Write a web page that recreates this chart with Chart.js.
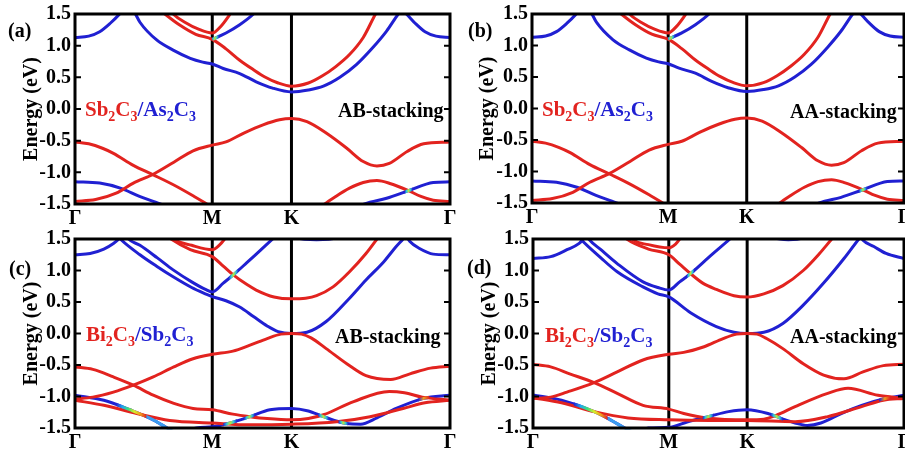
<!DOCTYPE html>
<html>
<head>
<meta charset="utf-8">
<script src="https://cdn.jsdelivr.net/npm/chart.js@4.4.1/dist/chart.umd.min.js"></script>
<style>
  body { margin: 0; background: #fff; }
  #fig { position: relative; width: 905px; height: 453px; overflow: hidden;
         font-family: "Liberation Serif", "Times New Roman", serif; font-weight: bold; }
  .panel { position: absolute; }
  .lbl { position: absolute; white-space: nowrap; line-height: 1; color: #000; font-size: 20px; }
  .cmp { font-size: 21px; }
  .cmp sub { font-size: 14px; vertical-align: -5px; line-height: 0; }
  .r { color: #e2231f; }
  .b { color: #2020d2; }
</style>
</head>
<body>
<div id="fig">
  <canvas class="panel" id="ca" width="465" height="228" style="left:0;top:0"></canvas>
  <canvas class="panel" id="cb" width="453" height="228" style="left:452px;top:0"></canvas>
  <canvas class="panel" id="cc" width="465" height="227" style="left:0;top:226px"></canvas>
  <canvas class="panel" id="cd" width="453" height="227" style="left:452px;top:226px"></canvas>

  <div class="lbl" style="left:8px;top:20px">(a)</div>
  <div class="lbl" style="left:468px;top:20px">(b)</div>
  <div class="lbl" style="left:9px;top:258px">(c)</div>
  <div class="lbl" style="left:467px;top:257px">(d)</div>

  <div class="lbl cmp" style="left:85px;top:99px"><span class="r">Sb<sub>2</sub>C<sub>3</sub></span><span class="b">/As<sub>2</sub>C<sub>3</sub></span></div>
  <div class="lbl cmp" style="left:542px;top:99px"><span class="r">Sb<sub>2</sub>C<sub>3</sub></span><span class="b">/As<sub>2</sub>C<sub>3</sub></span></div>
  <div class="lbl cmp" style="left:86px;top:324px"><span class="r">Bi<sub>2</sub>C<sub>3</sub></span><span class="b">/Sb<sub>2</sub>C<sub>3</sub></span></div>
  <div class="lbl cmp" style="left:545px;top:325px"><span class="r">Bi<sub>2</sub>C<sub>3</sub></span><span class="b">/Sb<sub>2</sub>C<sub>3</sub></span></div>

  <div class="lbl" style="left:338px;top:100px">AB-stacking</div>
  <div class="lbl" style="left:790px;top:101px">AA-stacking</div>
  <div class="lbl" style="left:335px;top:326px">AB-stacking</div>
  <div class="lbl" style="left:790px;top:326px">AA-stacking</div>
</div>
<script>
// k path: Γ (0) - M (1) - K (1.577) - Γ (2.732), energies in eV
const kTicks = [0, 1, 1.577, 2.732];
const kLabels = ['Γ', 'M', 'K', 'Γ'];
const eTicks = [-1.5, -1.0, -0.5, 0.0, 0.5, 1.0, 1.5];

// panel (a)/(b): Sb2C3/As2C3 (b reads the same as a)
const aRed1 = [[0.68,1.6],[0.715,1.5],[0.8,1.37],[0.9,1.26],[1.0,1.2],[1.06,1.3],[1.13,1.5],[1.16,1.6]];
const aRed2 = [[0.6,1.6],[0.655,1.5],[0.76,1.33],[0.88,1.18],[1.0,1.1],[1.1,0.95],[1.2,0.77],[1.3,0.62],[1.38,0.51],[1.48,0.41],[1.577,0.36],[1.7,0.41],[1.8,0.52],[1.9,0.67],[2.0,0.86],[2.1,1.13],[2.19,1.5],[2.22,1.6]];
const aRedV1 = [[0,-0.52],[0.1,-0.55],[0.2,-0.62],[0.28,-0.7],[0.425,-0.89],[0.57,-1.04],[0.72,-1.2],[0.86,-1.37],[0.96,-1.5],[1.0,-1.56]];
const aRedV2 = [[0,-1.46],[0.15,-1.43],[0.3,-1.33],[0.425,-1.17],[0.57,-1.03],[0.72,-0.84],[0.86,-0.66],[1.0,-0.57],[1.1,-0.52],[1.23,-0.38],[1.37,-0.25],[1.49,-0.17],[1.577,-0.15],[1.69,-0.2],[1.83,-0.38],[1.98,-0.62],[2.1,-0.83],[2.2,-0.9],[2.29,-0.86],[2.42,-0.67],[2.54,-0.55],[2.732,-0.52]];
const aRedV3 = [[1.78,-1.58],[1.82,-1.5],[1.9,-1.38],[2.0,-1.25],[2.1,-1.16],[2.2,-1.13],[2.3,-1.18],[2.43,-1.29],[2.52,-1.38],[2.61,-1.44],[2.732,-1.46]];
const aBlue1 = [[0,1.13],[0.1,1.15],[0.18,1.22],[0.255,1.35],[0.32,1.49],[0.37,1.62]];
const aBlue2 = [[0.4,1.62],[0.44,1.5],[0.473,1.37],[0.595,1.09],[0.715,0.93],[0.84,0.8],[0.93,0.74],[1.0,0.71],[1.08,0.64],[1.2,0.56],[1.32,0.43],[1.44,0.33],[1.577,0.27],[1.7,0.3],[1.81,0.36],[1.93,0.5],[2.05,0.7],[2.17,0.97],[2.27,1.23],[2.355,1.5],[2.4,1.62]];
const aBlue3 = [[2.36,1.62],[2.42,1.49],[2.48,1.35],[2.55,1.22],[2.63,1.15],[2.732,1.13]];
const aBlue4 = [[1.0,1.1],[1.1,1.2],[1.2,1.33],[1.3,1.5],[1.34,1.6]];
const aBlueV1 = [[0,-1.15],[0.18,-1.17],[0.33,-1.25],[0.47,-1.38],[0.62,-1.5],[0.68,-1.56]];
const aBlueV2 = [[2.05,-1.57],[2.11,-1.5],[2.27,-1.41],[2.43,-1.29],[2.61,-1.16],[2.732,-1.15]];

// panel (c): Bi2C3/Sb2C3 AB
const cRedUp = [[0.68,1.6],[0.72,1.5],[0.85,1.4],[1.0,1.33],[1.05,1.4],[1.09,1.5],[1.12,1.6]];
const cRedMid = [[0.64,1.6],[0.7,1.5],[0.84,1.33],[1.0,1.22],[1.08,1.07],[1.153,0.93],[1.25,0.78],[1.32,0.69],[1.45,0.58],[1.577,0.55],[1.68,0.56],[1.76,0.6],[1.88,0.74],[2.0,0.98],[2.12,1.27],[2.2,1.5],[2.24,1.62]];
const cRedV1 = [[0,-1.04],[0.13,-1.01],[0.28,-0.93],[0.425,-0.82],[0.57,-0.69],[0.72,-0.53],[0.86,-0.4],[1.0,-0.33],[1.15,-0.28],[1.275,-0.185],[1.4,-0.08],[1.5,-0.01],[1.577,0.0],[1.65,-0.01],[1.72,-0.07],[1.83,-0.24],[1.98,-0.48],[2.12,-0.67],[2.3,-0.73],[2.44,-0.64],[2.59,-0.55],[2.732,-0.52]];
const cRedV2 = [[0,-0.53],[0.13,-0.57],[0.28,-0.69],[0.425,-0.82],[0.57,-0.98],[0.72,-1.11],[0.86,-1.19],[1.0,-1.21],[1.15,-1.28],[1.275,-1.32],[1.4,-1.35],[1.577,-1.37],[1.7,-1.35],[1.81,-1.29],[2.03,-1.08],[2.29,-0.92],[2.4,-0.94],[2.53,-1.01],[2.732,-1.06]];
const cRedV4 = [[0,-1.06],[0.21,-1.14],[0.45,-1.27],[0.69,-1.38],[1.0,-1.42],[1.27,-1.45],[1.577,-1.44],[1.906,-1.4],[2.15,-1.32],[2.39,-1.19],[2.55,-1.1],[2.732,-1.06]];
const cBlue1 = [[0,1.25],[0.11,1.27],[0.21,1.34],[0.28,1.43],[0.32,1.5],[0.36,1.6]];
const cBlueLo = [[0.29,1.6],[0.33,1.5],[0.473,1.25],[0.6,1.06],[0.715,0.9],[0.85,0.73],[0.95,0.63],[1.0,0.585],[1.1,0.52],[1.2,0.42],[1.3,0.27],[1.4,0.12],[1.48,0.03],[1.577,0.0],[1.69,0.02],[1.83,0.19],[2.0,0.56],[2.12,0.85],[2.25,1.14],[2.34,1.38],[2.39,1.5],[2.42,1.58]];
const cBlueUp = [[0.36,1.6],[0.39,1.5],[0.473,1.4],[0.6,1.2],[0.715,1.01],[0.85,0.82],[0.95,0.7],[1.0,0.66],[1.08,0.8],[1.153,0.93],[1.25,1.12],[1.35,1.32],[1.44,1.5],[1.48,1.58]];
const cBlue3 = [[2.41,1.56],[2.44,1.46],[2.51,1.35],[2.61,1.26],[2.732,1.25]];
const cBlueTop = [[1.52,1.75],[1.61,1.52],[1.76,1.49],[1.91,1.52],[2.0,1.75]];
const cBlueV1 = [[0,-0.98],[0.21,-1.06],[0.4,-1.21],[0.57,-1.37],[0.67,-1.5],[0.75,-1.6]];
const cBlueV2 = [[0.8,-1.56],[0.886,-1.5],[1.0,-1.48],[1.13,-1.42],[1.275,-1.32],[1.42,-1.21],[1.577,-1.19],[1.7,-1.23],[1.81,-1.32],[1.98,-1.43],[2.08,-1.44],[2.2,-1.34],[2.34,-1.19],[2.54,-1.03],[2.732,-0.98]];

// panel (d): Bi2C3/Sb2C3 AA
const dRedUp = [[0.7,1.6],[0.73,1.5],[0.85,1.41],[1.0,1.36],[1.05,1.42],[1.08,1.5],[1.11,1.6]];
const dRedMid = [[0.64,1.6],[0.69,1.5],[0.85,1.34],[1.0,1.25],[1.08,1.1],[1.16,0.95],[1.25,0.8],[1.35,0.7],[1.48,0.6],[1.577,0.58],[1.7,0.63],[1.84,0.76],[1.99,1.0],[2.11,1.27],[2.2,1.5],[2.24,1.6]];
const dRedV1 = [[0,-1.03],[0.13,-1.01],[0.25,-0.93],[0.45,-0.78],[0.62,-0.61],[0.81,-0.42],[1.0,-0.33],[1.11,-0.3],[1.26,-0.21],[1.4,-0.08],[1.5,-0.01],[1.577,0.0],[1.65,-0.01],[1.72,-0.08],[1.84,-0.24],[1.99,-0.48],[2.14,-0.66],[2.29,-0.72],[2.43,-0.61],[2.58,-0.51],[2.732,-0.49]];
const dRedV2 = [[0,-0.49],[0.13,-0.53],[0.27,-0.64],[0.45,-0.78],[0.62,-0.95],[0.81,-1.14],[1.0,-1.2],[1.11,-1.27],[1.28,-1.34],[1.577,-1.37],[1.7,-1.36],[1.79,-1.3],[1.93,-1.16],[2.17,-0.95],[2.32,-0.87],[2.54,-0.98],[2.732,-1.03]];
const dRedV4 = [[0,-1.02],[0.21,-1.1],[0.45,-1.24],[0.7,-1.34],[1.0,-1.37],[1.3,-1.38],[1.577,-1.38],[1.93,-1.4],[2.17,-1.32],[2.42,-1.16],[2.58,-1.06],[2.732,-1.03]];
const dBlue1 = [[0,1.19],[0.13,1.22],[0.25,1.33],[0.34,1.43],[0.37,1.5],[0.4,1.6]];
const dBlueLo = [[0.31,1.6],[0.35,1.5],[0.5,1.2],[0.62,0.98],[0.81,0.74],[0.92,0.63],[1.0,0.58],[1.16,0.33],[1.35,0.11],[1.48,0.02],[1.577,0.0],[1.7,0.02],[1.84,0.16],[1.99,0.45],[2.14,0.8],[2.29,1.19],[2.4,1.5],[2.44,1.6]];
const dBlueUp = [[0.38,1.6],[0.41,1.5],[0.5,1.33],[0.62,1.11],[0.81,0.82],[0.92,0.73],[1.0,0.69],[1.08,0.82],[1.16,0.95],[1.3,1.22],[1.45,1.5],[1.5,1.6]];
const dBlue3 = [[2.4,1.58],[2.43,1.48],[2.51,1.38],[2.6,1.27],[2.732,1.19]];
const dBlueTop = [[1.7,1.75],[1.78,1.52],[1.88,1.49],[1.99,1.52],[2.06,1.75]];
const dBlueV1 = [[0,-0.975],[0.21,-1.06],[0.45,-1.24],[0.57,-1.37],[0.675,-1.5],[0.75,-1.58]];
const dBlueV2 = [[0.78,-1.56],[0.85,-1.5],[1.0,-1.49],[1.14,-1.4],[1.29,-1.32],[1.44,-1.24],[1.577,-1.21],[1.73,-1.27],[1.83,-1.35],[1.93,-1.42],[2.02,-1.46],[2.12,-1.42],[2.27,-1.27],[2.42,-1.14],[2.58,-1.04],[2.732,-0.98]];

const RED = '#e2231f';
const BLUE = '#2020d2';
const FONT = '"Liberation Serif", "Times New Roman", serif';

// colour mixing where bands hybridise: [band, from k, to k, colours]
const RAIN = [BLUE, '#1ea8f0', '#3ee07a', '#d8ee2a', '#f0a01e', RED];
const SPOT = [BLUE, '#30c8d8', '#b8e838', '#30c8d8', BLUE];
const LIGHT = ['#3a9cf0', '#3a9cf0'];
const ORANGE = [BLUE, '#f0a01e', RED];
const abMix = [[aBlue4, 0.99, 1.05, SPOT], [aBlueV2, 2.4, 2.46, SPOT]];
const cMix = [[cBlueV1, 0.3, 0.52, RAIN], [cBlueV1, 0.52, 0.8, LIGHT], [cBlueV2, 1.08, 1.18, SPOT],
              [cBlueV2, 1.23, 1.31, SPOT], [cBlueV2, 1.77, 1.85, SPOT], [cBlueV2, 1.92, 1.99, SPOT],
              [cBlueV2, 2.5, 2.58, ORANGE], [cBlueUp, 1.12, 1.19, SPOT]];
const dMix = [[dBlueV1, 0.3, 0.55, RAIN], [dBlueV1, 0.55, 0.8, LIGHT], [dBlueV2, 1.25, 1.33, SPOT],
              [dBlueV2, 1.75, 1.84, SPOT], [dBlueV2, 2.55, 2.63, ORANGE], [dBlueUp, 1.13, 1.19, SPOT]];

// M/K lines under the bands
const linesPlugin = {
    id: 'kLines',
    beforeDatasetsDraw(chart) {
        const { ctx, chartArea: a, scales: { x } } = chart;
        ctx.save();
        ctx.strokeStyle = '#000';
        ctx.lineWidth = 3;
        [kTicks[1], kTicks[2]].forEach(k => {
            const px = x.getPixelForValue(k);
            ctx.beginPath();
            ctx.moveTo(px, a.top);
            ctx.lineTo(px, a.bottom);
            ctx.stroke();
        });
        ctx.restore();
    }
};

// recolour short stretches of a band with a gradient
const mixPlugin = {
    id: 'mix',
    afterDatasetsDraw(chart) {
        const { ctx, chartArea: a, scales: { x } } = chart;
        const bands = chart.$bands;
        (chart.$mix || []).forEach(([band, k0, k1, colors]) => {
            const meta = chart.getDatasetMeta(bands.indexOf(band));
            const x0 = x.getPixelForValue(k0);
            const x1 = x.getPixelForValue(k1);
            const g = ctx.createLinearGradient(x0, 0, x1, 0);
            colors.forEach((c, i) => g.addColorStop(i / (colors.length - 1), c));
            ctx.save();
            ctx.beginPath();
            ctx.rect(x0, a.top - 1.5, x1 - x0, a.bottom - a.top + 3);
            ctx.clip();
            ctx.beginPath();
            meta.dataset.path(ctx);
            ctx.strokeStyle = g;
            ctx.lineWidth = 3;
            ctx.stroke();
            ctx.restore();
        });
    }
};

// frame and inward ticks on top
const framePlugin = {
    id: 'frame',
    afterDatasetsDraw(chart) {
        const { ctx, chartArea: a, scales: { y } } = chart;
        ctx.save();
        ctx.strokeStyle = '#000';
        ctx.lineWidth = 2;
        eTicks.forEach(v => {
            const py = y.getPixelForValue(v);
            ctx.beginPath();
            ctx.moveTo(a.left, py); ctx.lineTo(a.left + 6, py);
            ctx.moveTo(a.right, py); ctx.lineTo(a.right - 6, py);
            ctx.stroke();
        });
        ctx.lineWidth = 3;
        ctx.strokeRect(a.left, a.top, a.right - a.left, a.bottom - a.top);
        ctx.restore();
    }
};

function makePanel(id, reds, blues, mix, box) {
    const bands = reds.concat(blues);
    const datasets = bands.map((b, i) => ({
        data: b.map(p => ({ x: p[0], y: p[1] })),
        borderColor: i < reds.length ? RED : BLUE
    }));
    const tickFont = { family: FONT, size: 20, weight: 'bold' };
    const chart = new Chart(document.getElementById(id), {
        type: 'line',
        data: { datasets },
        options: {
            responsive: false,
            animation: false,
            devicePixelRatio: 1,
            layout: { padding: { top: box.top, right: box.right, left: 0, bottom: 0 } },
            elements: {
                line: { borderWidth: 3, cubicInterpolationMode: 'monotone', fill: false },
                point: { radius: 0 }
            },
            plugins: { legend: { display: false }, tooltip: { enabled: false } },
            scales: {
                x: {
                    type: 'linear', min: 0, max: kTicks[3],
                    afterBuildTicks: s => { s.ticks = kTicks.map(v => ({ value: v })); },
                    afterFit: s => { s.height = box.xh; s.paddingLeft = 0; s.paddingRight = 0; },
                    ticks: { callback: (v, i) => kLabels[i], font: tickFont, color: '#000', padding: 3, maxRotation: 0, autoSkip: false },
                    grid: { display: false, drawTicks: false },
                    border: { display: false }
                },
                y: {
                    min: -1.5, max: 1.5,
                    afterBuildTicks: s => { s.ticks = eTicks.map(v => ({ value: v })); },
                    afterFit: s => { s.width = box.yw; s.paddingTop = 0; s.paddingBottom = 0; },
                    ticks: { callback: v => v.toFixed(1), font: tickFont, color: '#000', padding: 4 },
                    grid: { display: false, drawTicks: false },
                    border: { display: false },
                    title: { display: true, text: 'Energy (eV)', font: tickFont, color: '#000', padding: { top: box.tp, bottom: 0 } }
                }
            }
        },
        plugins: [linesPlugin, {
            id: 'setup',
            beforeDraw(c) { c.$bands = bands; c.$mix = mix; }
        }, mixPlugin, framePlugin]
    });
    return chart;
}

const abReds = [aRed1, aRed2, aRedV1, aRedV2, aRedV3];
const abBlues = [aBlue1, aBlue2, aBlue3, aBlue4, aBlueV1, aBlueV2];
makePanel('ca', abReds, abBlues, abMix, { top: 14, right: 15, xh: 24, yw: 75, tp: 20 });
makePanel('cb', abReds, abBlues, abMix, { top: 14, right: 1, xh: 25, yw: 80, tp: 24 });
makePanel('cc', [cRedUp, cRedMid, cRedV1, cRedV2, cRedV4],
    [cBlue1, cBlueLo, cBlueUp, cBlue3, cBlueTop, cBlueV1, cBlueV2], cMix,
    { top: 13, right: 15, xh: 25, yw: 75, tp: 20 });
makePanel('cd', [dRedUp, dRedMid, dRedV1, dRedV2, dRedV4],
    [dBlue1, dBlueLo, dBlueUp, dBlue3, dBlueTop, dBlueV1, dBlueV2], dMix,
    { top: 13, right: 1, xh: 25, yw: 81, tp: 26 });
</script>
</body>
</html>
